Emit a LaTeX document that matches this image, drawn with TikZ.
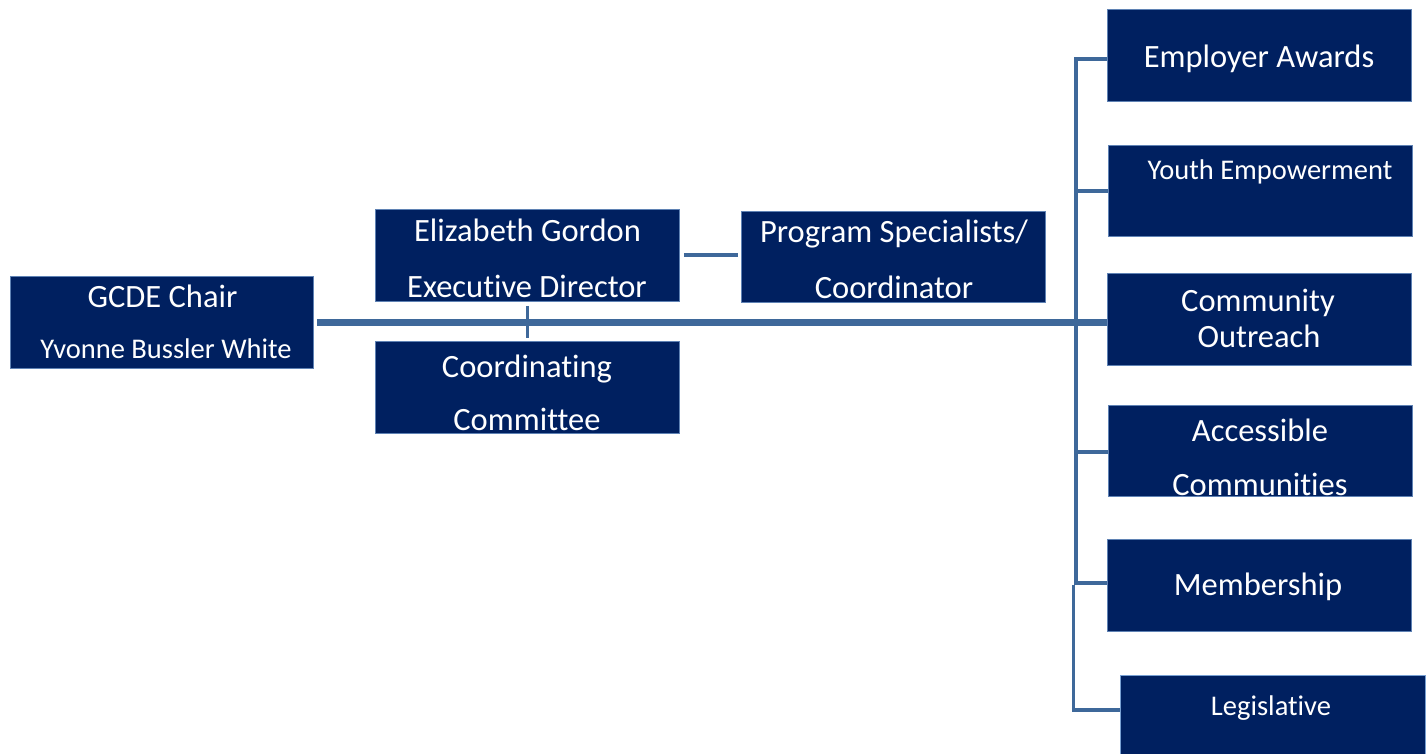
\documentclass[tikz,border=0pt]{standalone}
\usepackage{fontspec}
\setmainfont[Ligatures=NoCommon]{Carlito}
\definecolor{navy}{RGB}{0,32,96}
\definecolor{edge}{RGB}{95,130,180}
\definecolor{legedge}{RGB}{120,160,210}
\definecolor{conn}{RGB}{62,104,154}
\begin{document}
\begin{tikzpicture}[x=1pt,y=-1pt,
  box/.style={fill=navy,draw=edge,line width=0.8pt,anchor=north west,inner sep=0pt},
  big/.style={text=white,anchor=base,inner sep=0pt,font=\fontsize{32.5}{39}\selectfont},
  small/.style={text=white,anchor=base,inner sep=0pt,font=\fontsize{28.5}{34}\selectfont},
  thin/.style={draw=conn,line width=3.4pt},
  thick/.style={draw=conn,line width=6.5pt}]
\useasboundingbox (0,0) rectangle (1428,753);
% boxes
\node[box,minimum width=303pt,minimum height=92pt] (chair) at (10,276) {};
\node[box,minimum width=304pt,minimum height=92pt] (ed) at (375,209) {};
\node[box,minimum width=304pt,minimum height=91pt] (ps) at (741,211) {};
\node[box,minimum width=304pt,minimum height=92pt] (cc) at (375,341) {};
\node[box,minimum width=304pt,minimum height=92pt] (emp) at (1107,9) {};
\node[box,minimum width=304pt,minimum height=91pt] (youth) at (1108,145) {};
\node[box,minimum width=304pt,minimum height=92pt] (co) at (1107,273) {};
\node[box,minimum width=304pt,minimum height=91pt] (acc) at (1108,405) {};
\node[box,minimum width=304pt,minimum height=92pt] (mem) at (1107,539) {};
\node[box,minimum width=305pt,minimum height=80pt,draw=legedge] (leg) at (1120,675) {};
% texts
\node[big] (t1) at (162.5,307.5) {GCDE Chair};
\node[small] (t2) at (166,358.5) {Yvonne Bussler White};
\node[big] (t3) at (527.5,241.5) {Elizabeth Gordon};
\node[big] (t4) at (527,297.5) {Executive Director};
\node[big] (t5) at (894,242.5) {Program Specialists/};
\node[big] (t6) at (894,298.5) {Coordinator};
\node[big] (t7) at (527,377.5) {Coordinating};
\node[big] (t8) at (527,430.5) {Committee};
\node[big] (t9) at (1259,67.5) {Employer Awards};
\node[small] (t10) at (1270,179.5) {Youth Empowerment};
\node[big] (t11) at (1258,311.5) {Community};
\node[big] (t12) at (1259,347.5) {Outreach};
\node[big] (t13) at (1260,441.5) {Accessible};
\node[big] (t14) at (1260,495.5) {Communities};
\node[big] (t15) at (1258,595.5) {Membership};
\node[small] (t16) at (1271,715.5) {Legislative};
% connectors
\coordinate (sp) at (1076,0);
\draw[thick] ([xshift=3pt]chair.east) -- (chair.east -| co.west);
\draw[thin] ([yshift=-4pt]ed.south) -- ([yshift=3pt]cc.north);
\draw[thin] ([xshift=4pt]ed.east |- 0,255) -- ([xshift=-3pt]ps.west |- 0,255);
\draw[thin] (sp |- 0,59) -- (sp |- 0,585);
\draw[thin] ([xshift=-2.5pt]sp |- 0,585) -- ([xshift=-2.5pt]sp |- 0,710);
\draw[thin] ([xshift=-1.7pt]sp |- 0,59) -- (emp.west |- 0,59);
\draw[thin] (sp |- 0,191) -- (youth.west |- 0,191);
\draw[thin] (sp |- 0,452) -- (acc.west |- 0,452);
\draw[thin] (sp |- 0,583) -- (mem.west |- 0,583);
\draw[thin] ([xshift=-4.2pt]sp |- 0,710) -- (leg.west |- 0,710);
\end{tikzpicture}
\end{document}
